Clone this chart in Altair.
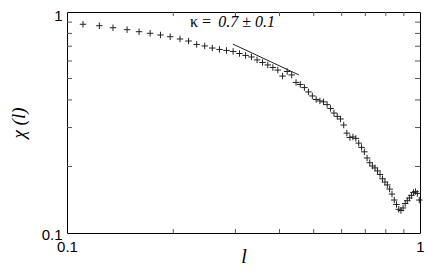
import altair as alt
import pandas as pd

l_vals = [0.111, 0.1235, 0.135, 0.148, 0.160, 0.172, 0.184, 0.196, 0.209, 0.221,
          0.233, 0.2455, 0.258, 0.2705, 0.283, 0.2955, 0.308, 0.3205, 0.333, 0.3455,
          0.358, 0.3705, 0.383, 0.3955, 0.408, 0.4205, 0.433, 0.4455, 0.458, 0.4705,
          0.483, 0.4955, 0.508, 0.5205, 0.533, 0.5455, 0.558, 0.5705, 0.583, 0.5955,
          0.608, 0.6205, 0.633, 0.6455, 0.658, 0.6705, 0.683, 0.6955, 0.708, 0.7205,
          0.733, 0.7455, 0.758, 0.7705, 0.783, 0.7955, 0.808, 0.8205, 0.833, 0.8455,
          0.858, 0.8705, 0.883, 0.8955, 0.908, 0.9205, 0.933, 0.9455, 0.958, 0.9705,
          0.983, 0.9955]
chi_vals = [0.880, 0.867, 0.849, 0.832, 0.8145, 0.801, 0.787, 0.773, 0.755, 0.739,
            0.713, 0.702, 0.687, 0.677, 0.670, 0.663, 0.649, 0.636, 0.626, 0.607,
            0.591, 0.576, 0.561, 0.546, 0.513, 0.538, 0.519, 0.480, 0.470, 0.455,
            0.435, 0.417, 0.402, 0.396, 0.392, 0.381, 0.366, 0.349, 0.337, 0.328,
            0.308, 0.283, 0.2705, 0.272, 0.268, 0.255, 0.244, 0.233, 0.2185, 0.208,
            0.201, 0.197, 0.191, 0.184, 0.176, 0.170, 0.165, 0.158, 0.150, 0.141,
            0.1346, 0.128, 0.1264, 0.1298, 0.136, 0.140, 0.144, 0.148, 0.1526, 0.154,
            0.151, 0.141]

# fitted slope segment
fit_l = [0.295, 0.454]
fit_chi = [0.716, 0.519]

# annotation
kappa_text = "\u03ba ="
kappa_value = "0.7 \u00b1 0.1"
kappa_l = [0.223, 0.268]
kappa_chi = 0.855

# minor tick values
tick_vals = [0.2, 0.3, 0.4, 0.5, 0.6, 0.7, 0.8, 0.9]
label_vals = [0.1, 1]

W, H = 353, 221

xscale = alt.Scale(type="log", domain=[0.1, 1], nice=False)
yscale = alt.Scale(type="log", domain=[0.1, 1], nice=False)

df = pd.DataFrame({"l": l_vals, "chi": chi_vals})
fit_df = pd.DataFrame({"l": fit_l, "chi": fit_chi})
txt1 = pd.DataFrame({"l": [kappa_l[0]], "chi": [kappa_chi], "t": [kappa_text]})
txt2 = pd.DataFrame({"l": [kappa_l[1]], "chi": [kappa_chi], "t": [kappa_value]})
xt_df = pd.DataFrame({"l": tick_vals})
yt_df = pd.DataFrame({"chi": tick_vals})

cross = "M-1,0L1,0M0,-1L0,1"

xaxis = alt.Axis(values=label_vals, format="~g", title="l", grid=False, ticks=False,
                 domain=False, labelFont="Liberation Sans", labelFontSize=15,
                 labelColor="black", labelPadding=6, labelFlush=False,
                 titleFont="Liberation Serif", titleFontStyle="italic",
                 titleFontWeight="normal", titleFontSize=20, titleBaseline="alphabetic",
                 titleY=29, titleColor="black")
yaxis = alt.Axis(values=label_vals, format="~g", title="\u03c7 (l)", grid=False, ticks=False,
                 domain=False, labelFont="Liberation Sans", labelFontSize=15,
                 labelColor="black", labelPadding=5, labelFlush=False,
                 labelOffset={"condition": {"test": "datum.value >= 1", "value": 3}, "value": 1},
                 titleFont="Liberation Serif", titleFontStyle="italic",
                 titleFontWeight="normal", titleFontSize=19, titlePadding=13,
                 titleColor="black")

points = alt.Chart(df).mark_point(shape=cross, size=42, filled=False, color="#222",
                                  strokeWidth=1, opacity=1).encode(
    x=alt.X("l:Q", scale=xscale, axis=xaxis),
    y=alt.Y("chi:Q", scale=yscale, axis=yaxis),
)

fit = alt.Chart(fit_df).mark_line(color="#222", strokeWidth=1).encode(
    x=alt.X("l:Q", scale=xscale),
    y=alt.Y("chi:Q", scale=yscale),
)

t1 = alt.Chart(txt1).mark_text(align="left", baseline="alphabetic", font="Liberation Serif",
                               fontSize=16, color="black").encode(
    x=alt.X("l:Q", scale=xscale), y=alt.Y("chi:Q", scale=yscale), text="t:N")
t2 = alt.Chart(txt2).mark_text(align="left", baseline="alphabetic", font="Liberation Serif",
                               fontSize=16, fontStyle="italic", color="black").encode(
    x=alt.X("l:Q", scale=xscale), y=alt.Y("chi:Q", scale=yscale), text="t:N")

tick_color = "#555"
xb = alt.Chart(xt_df).mark_rule(color=tick_color, strokeWidth=1).encode(
    x=alt.X("l:Q", scale=xscale), y=alt.value(H), y2=alt.value(H - 4))
xtop = alt.Chart(xt_df).mark_rule(color=tick_color, strokeWidth=1).encode(
    x=alt.X("l:Q", scale=xscale), y=alt.value(0), y2=alt.value(4))
yl = alt.Chart(yt_df).mark_rule(color=tick_color, strokeWidth=1).encode(
    y=alt.Y("chi:Q", scale=yscale), x=alt.value(0), x2=alt.value(5))
yr = alt.Chart(yt_df).mark_rule(color=tick_color, strokeWidth=1).encode(
    y=alt.Y("chi:Q", scale=yscale), x=alt.value(W), x2=alt.value(W - 5))

chart = alt.layer(points, fit, t1, t2, xb, xtop, yl, yr).properties(
    width=W, height=H,
    autosize=alt.AutoSizeParams(type="none"),
    padding={"left": 59, "top": 4, "right": 8, "bottom": 32},
    background="white",
).configure_view(stroke="black", strokeWidth=1)

chart.save("out.html", embed_options={"renderer": "svg", "actions": False})
